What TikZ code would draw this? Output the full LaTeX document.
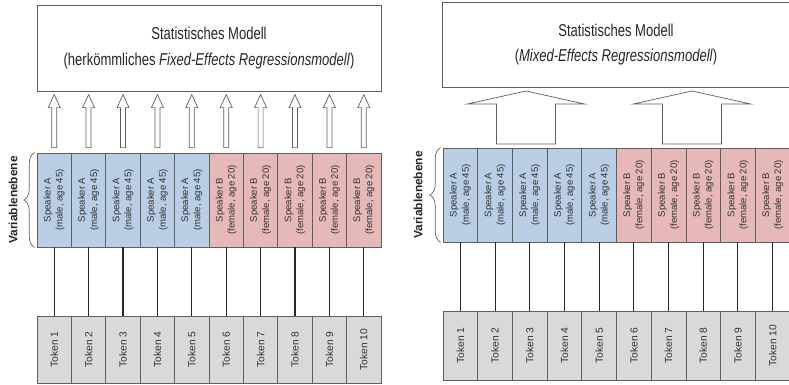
\documentclass[tikz,border=0pt]{standalone}
\usepackage{graphicx}
\usepackage{fontspec}
\setmainfont{Liberation Sans}
\newfontfamily\narrowsf[FakeStretch=0.76]{Liberation Sans}
\usetikzlibrary{positioning,calc,decorations.pathreplacing}

\definecolor{spkblue}{RGB}{185,205,229}
\definecolor{spkred}{RGB}{230,185,184}
\definecolor{tokgray}{RGB}{217,217,217}
\definecolor{edgegray}{RGB}{95,95,95}

\begin{document}
\begin{tikzpicture}[
    x=0.025cm, y=-0.025cm,
    model/.style={rectangle, draw=edgegray, line width=0.6pt, inner sep=0pt, align=center,
        font=\narrowsf\fontsize{12.2pt}{18pt}\selectfont, text=black!85},
    spk/.style={rectangle, draw=edgegray, line width=0.5pt, inner sep=0pt, minimum height=2.35cm,
        font=\fontsize{6.8pt}{8.6pt}\selectfont, text=black!80},
    tok/.style={rectangle, draw=edgegray, line width=0.5pt, fill=tokgray, inner sep=0pt,
        font=\fontsize{7.3pt}{8.5pt}\selectfont, text=black!80},
    link/.style={draw=black!85, line width=0.75pt},
    hollow/.style={draw=edgegray, line width=0.5pt, fill=white, line join=miter},
    varlab/.style={rotate=90, font=\bfseries\fontsize{8.5pt}{10pt}\selectfont, text=black!85},
    brc/.style={draw=edgegray, line width=0.5pt, decorate, decoration={brace, amplitude=0.27cm}}
]
    \clip (0,0) rectangle (789,385);

    % left: fixed effects
    \node[model, minimum width=8.6cm, minimum height=2.15cm] (modl) at (209,48)
        {Statistisches Modell\\(herkömmliches \textit{Fixed-Effects Regressionsmodell})};

    \foreach \i in {1,...,10}{
        \ifnum\i<6 \def\who{A}\def\info{male, age 45}\def\col{spkblue}
        \else \def\who{B}\def\info{female, age 20}\def\col{spkred}\fi
        \pgfmathsetmacro\cx{37+34.4*(\i-0.5)}
        \node[spk, fill=\col, minimum width=0.86cm] (sl\i) at (\cx,200)
            {\rotatebox{90}{\begin{tabular}{@{}c@{}}Speaker \who\\(\info)\end{tabular}}};
        \node[tok, minimum width=0.86cm, minimum height=1.675cm] (tl\i) at (\cx,349.5)
            {\rotatebox{90}{Token \i}};
        \draw[link] (sl\i) -- (tl\i);
        \draw[hollow] ($(sl\i.north)+(-2.5,-5)$) -- ++(5,0) -- ++(0,-40) -- ++(3.5,0)
            -- ++(-6,-13) -- ++(-6,13) -- ++(3.5,0) -- cycle;
    }

    \draw[brc] ($(sl1.south west)+(-2,0)$) -- ($(sl1.north west)+(-2,0)$);
    \node[varlab] (vl) at (13,200) {Variablenebene};

    % right: mixed effects
    \node[model, minimum width=8.7cm, minimum height=2.125cm] (modr) at (616,44.5)
        {Statistisches Modell\\(\textit{Mixed-Effects Regressionsmodell})};

    \foreach \i in {1,...,10}{
        \ifnum\i<6 \def\who{A}\def\info{male, age 45}\def\col{spkblue}
        \else \def\who{B}\def\info{female, age 20}\def\col{spkred}\fi
        \pgfmathsetmacro\cx{443+34.7*(\i-0.5)}
        \node[spk, fill=\col, minimum width=0.8675cm] (sr\i) at (\cx,195)
            {\rotatebox{90}{\begin{tabular}{@{}c@{}}Speaker \who\\(\info)\end{tabular}}};
        \node[tok, minimum width=0.8675cm, minimum height=1.725cm] (tr\i) at (\cx,345.5)
            {\rotatebox{90}{Token \i}};
        \draw[link] (sr\i) -- (tr\i);
    }

    \foreach \ax in {526,692}
        \draw[hollow] ({\ax-29.5},144) -- ++(59,0) -- ++(0,-40) -- ++(29,0)
            -- (\ax,91) -- ++(-58.5,13) -- ++(29,0) -- cycle;

    \draw[brc] ($(sr1.south west)+(-2,0)$) -- ($(sr1.north west)+(-2,0)$);
    \node[varlab] (vr) at (418,195) {Variablenebene};
\end{tikzpicture}
\end{document}
